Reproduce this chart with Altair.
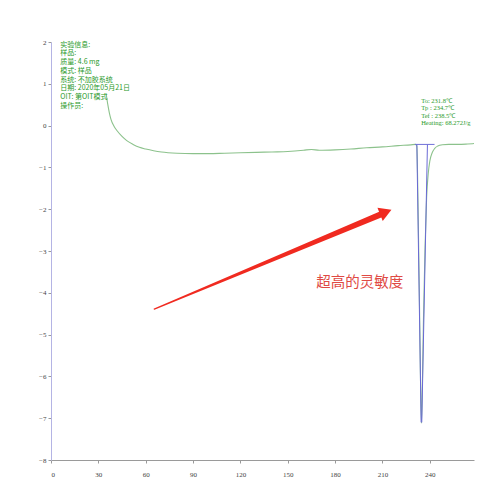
import altair as alt
import pandas as pd

# DSC heat-flow curve (temperature in °C, heat flow in mW)
temp = [35, 36, 37, 38, 40, 42, 45, 48, 52, 56, 60, 65, 70, 80, 90, 100, 110, 120,
        130, 140, 150, 160, 165, 170, 180, 190, 200, 210, 220, 228, 231, 231.8,
        232.5, 233.3, 234.0, 234.7, 235.3, 236, 237, 238, 239, 240, 241.5, 243,
        245, 248, 252, 258, 264, 268]
heat_flow = [0.75, 0.5, 0.3, 0.15, -0.02, -0.13, -0.26, -0.36, -0.45, -0.52, -0.56,
             -0.6, -0.63, -0.66, -0.67, -0.67, -0.66, -0.65, -0.64, -0.63, -0.62,
             -0.59, -0.57, -0.59, -0.58, -0.56, -0.53, -0.51, -0.48, -0.46, -0.45,
             -0.5, -1.8, -3.8, -5.8, -7.12, -6.2, -4.6, -2.9, -1.7, -1.15, -0.85,
             -0.65, -0.55, -0.49, -0.46, -0.45, -0.45, -0.44, -0.43]

# peak evaluation: onset / peak / endset temperatures and baseline
t_onset, t_peak, t_end = 231.8, 234.7, 238.5
peak_min = -7.1
baseline = -0.45
baseline_x = [230.5, 243.0]

# annotation texts
info_lines = ["实验信息:", "样品:", "质量: 4.6 mg", "模式: 样品", "系统: 不加胶系统",
              "日期: 2020年05月21日", "OIT: 第OIT模式", "操作员:"]
peak_lines = [f"To: {t_onset}℃", f"Tp : {t_peak}℃", f"Tef : {t_end}℃", "Heating: 68.272J/g"]
callout = "超高的灵敏度"

# arrow (tail → head) in data units, shaft width in px
arrow_x = [65.4, 210.5]
arrow_y = [-4.39, -2.1]
arrow_w = [1.2, 6.0]

x_ticks = list(range(0, 270, 15))
y_ticks = list(range(-8, 3))

xs = alt.Scale(domain=[0, 268], nice=False, zero=False)
ys = alt.Scale(domain=[-8, 2], nice=False, zero=False)

curve_df = pd.DataFrame({"t": temp, "hf": heat_flow})

base_axis_x = alt.Axis(values=x_ticks, labelExpr="datum.value % 30 == 0 ? datum.label : ''",
                       title=None, grid=False, domainColor="#9a9a9a", tickColor="#9a9a9a",
                       tickSize=3, labelPadding=7, labelFontSize=7, labelFont="Liberation Serif",
                       labelColor="#444444")
base_axis_y = alt.Axis(values=y_ticks, title=None, grid=False, domainColor="#b4b4e4",
                       tickColor="#9a9a9a", tickSize=3, labelPadding=2, labelFontSize=7,
                       labelFont="Liberation Serif", labelColor="#444444")

curve = alt.Chart(curve_df).mark_line(color="#8cc28c", strokeWidth=1.1, interpolate="monotone").encode(
    x=alt.X("t:Q", scale=xs, axis=base_axis_x),
    y=alt.Y("hf:Q", scale=ys, axis=base_axis_y),
)

tangent_df = pd.DataFrame({
    "x": [t_onset, t_end], "y": [baseline, baseline],
    "x2": [t_peak - 0.2, t_peak + 0.2], "y2": [peak_min, peak_min],
})
tangents = alt.Chart(tangent_df).mark_rule(color="#6a6ad6", strokeWidth=1).encode(
    x=alt.X("x:Q", scale=xs), y=alt.Y("y:Q", scale=ys), x2="x2:Q", y2="y2:Q")

base_df = pd.DataFrame({"x": [baseline_x[0]], "x2": [baseline_x[1]], "y": [baseline]})
base_rule = alt.Chart(base_df).mark_rule(color="#7070d8", strokeWidth=1).encode(
    x=alt.X("x:Q", scale=xs), x2="x2:Q", y=alt.Y("y:Q", scale=ys))

info_df = pd.DataFrame({"txt": info_lines, "x": [5.9] * len(info_lines),
                        "y": [1.94 - i * 0.21 for i in range(len(info_lines))]})
info = alt.Chart(info_df).mark_text(align="left", baseline="middle", fontSize=7,
                                    font="Noto Sans CJK SC", color="#2a9a2a").encode(
    x=alt.X("x:Q", scale=xs), y=alt.Y("y:Q", scale=ys), text="txt:N")

peak_df = pd.DataFrame({"txt": peak_lines, "x": [234.5] * len(peak_lines),
                        "y": [0.6 - i * 0.18 for i in range(len(peak_lines))]})
peak_txt = alt.Chart(peak_df).mark_text(align="left", baseline="middle", fontSize=6.5,
                                        font="Liberation Serif", color="#2a9a2a").encode(
    x=alt.X("x:Q", scale=xs), y=alt.Y("y:Q", scale=ys), text="txt:N")

arrow_df = pd.DataFrame({"x": arrow_x, "y": arrow_y, "w": arrow_w, "o": [0, 1]})
shaft = alt.Chart(arrow_df).mark_trail(color="#f02a20").encode(
    x=alt.X("x:Q", scale=xs), y=alt.Y("y:Q", scale=ys),
    size=alt.Size("w:Q", scale=None, legend=None), order="o:Q")

head_df = pd.DataFrame({"x": [arrow_x[1] + 1.6], "y": [arrow_y[1] + 0.03]})
head = alt.Chart(head_df).mark_point(shape="triangle-right", filled=True, color="#f02a20",
                                     opacity=1, size=200, angle=338).encode(
    x=alt.X("x:Q", scale=xs), y=alt.Y("y:Q", scale=ys))

call_df = pd.DataFrame({"txt": [callout], "x": [168.0], "y": [-3.77]})
call_txt = alt.Chart(call_df).mark_text(align="left", baseline="middle", fontSize=14.5,
                                        font="Noto Sans CJK SC", color="#e04a44").encode(
    x=alt.X("x:Q", scale=xs), y=alt.Y("y:Q", scale=ys), text="txt:N")

chart = alt.layer(curve, tangents, base_rule, info, peak_txt, shaft, head, call_txt).properties(
    width=423, height=418,
    padding={"left": 51, "top": 42, "right": 26, "bottom": 40},
    autosize=alt.AutoSizeParams(type="none"),
    background="white",
).configure_view(stroke=None)

chart.save("out.html", embed_options={"renderer": "svg", "actions": False})
